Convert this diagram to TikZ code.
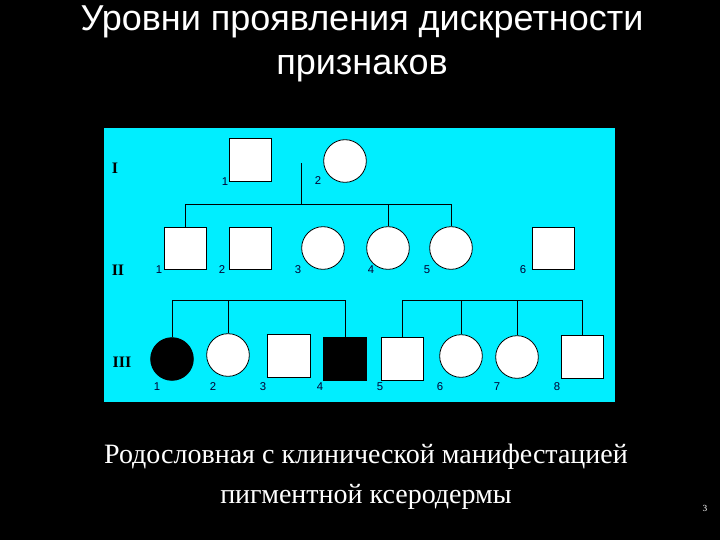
\documentclass[tikz,border=0pt]{standalone}
\usepackage{fontspec}
\setmainfont{Liberation Serif}
\newfontfamily\arialf{Liberation Sans}
\definecolor{cy}{RGB}{0,238,255}
\begin{document}
\begin{tikzpicture}[x=0.75pt,y=-0.75pt,
 sq/.style={draw=black,fill=white,minimum size=32pt,inner sep=0pt,line width=0.6pt},
 ci/.style={draw=black,fill=white,circle,minimum size=32pt,inner sep=0pt,line width=0.6pt},
 num/.style={font=\arialf\fontsize{8.5}{9}\selectfont,text=black!80!blue,inner sep=0pt},
 gen/.style={font=\bfseries\fontsize{12}{13}\selectfont,inner sep=0pt},
 ln/.style={line width=0.6pt}]
\fill[black] (0,0) rectangle (720,540);
\useasboundingbox (0,0) rectangle (720,540);
\fill[cy] (104,128) rectangle (615,402);
\node[text=white,font=\arialf\fontsize{27}{33}\selectfont,align=center] (title) at (362,44) {Уровни проявления дискретности\\признаков};
\node[text=white,font=\fontsize{21}{30}\selectfont,align=center] (cap) at (366,477) {Родословная с клинической манифестацией\\пигментной ксеродермы};
\node[text=white,font=\fontsize{7}{8}\selectfont] (pg) at (705,508) {3};
\node[gen] (gI) at (115,168) {I};
\node[gen] (gII) at (118,270) {II};
\node[gen] (gIII) at (122,362) {III};
% gen I
\node[sq] (a1) at (250.5,160) {};
\node[ci] (a2) at (345,161) {};
\coordinate (m) at (301,163);
\coordinate (bar) at (301,204);
% gen II
\node[sq] (b1) at (185.5,248.5) {};
\node[sq] (b2) at (250.5,248.5) {};
\node[ci] (b3) at (323,248) {};
\node[ci] (b4) at (388,248) {};
\node[ci] (b5) at (451,248) {};
\node[sq] (b6) at (553.5,248.5) {};
% gen III
\node[ci,fill=black] (c1) at (172,359) {};
\node[ci] (c2) at (228,355) {};
\node[sq] (c3) at (289,356) {};
\node[sq,fill=black] (c4) at (345,359) {};
\node[sq] (c5) at (402.5,359) {};
\node[ci] (c6) at (461,356) {};
\node[ci] (c7) at (517,357) {};
\node[sq] (c8) at (582.5,357) {};
\coordinate (L) at (0,300);
\coordinate (R) at (0,300);
% connectors
\draw[ln] (m) -- (bar);
\draw[ln] (b1.north) |- (b5.north |- bar) -- (b5.north);
\draw[ln] (b4.north |- bar) -- (b4.north);
\draw[ln] (c1.north) |- (c4.north |- L) -- (c4.north);
\draw[ln] (c2.north |- L) -- (c2.north);
\draw[ln] (c5.north) |- (c8.north |- R) -- (c8.north);
\draw[ln] (c6.north |- R) -- (c6.north);
\draw[ln] (c7.north |- R) -- (c7.north);
% numbers
\node[num] (n11) at (225,182) {1};
\node[num] (n12) at (318,181) {2};
\foreach \x/\t in {159/1,222/2,298/3,371/4,427/5,523/6}
  \node[num] (nII\t) at (\x,270) {\t};
\foreach \x/\t in {157/1,213/2,263/3,320/4,380/5,440/6,497/7,557/8}
  \node[num] (nIII\t) at (\x,387) {\t};
\end{tikzpicture}
\end{document}
